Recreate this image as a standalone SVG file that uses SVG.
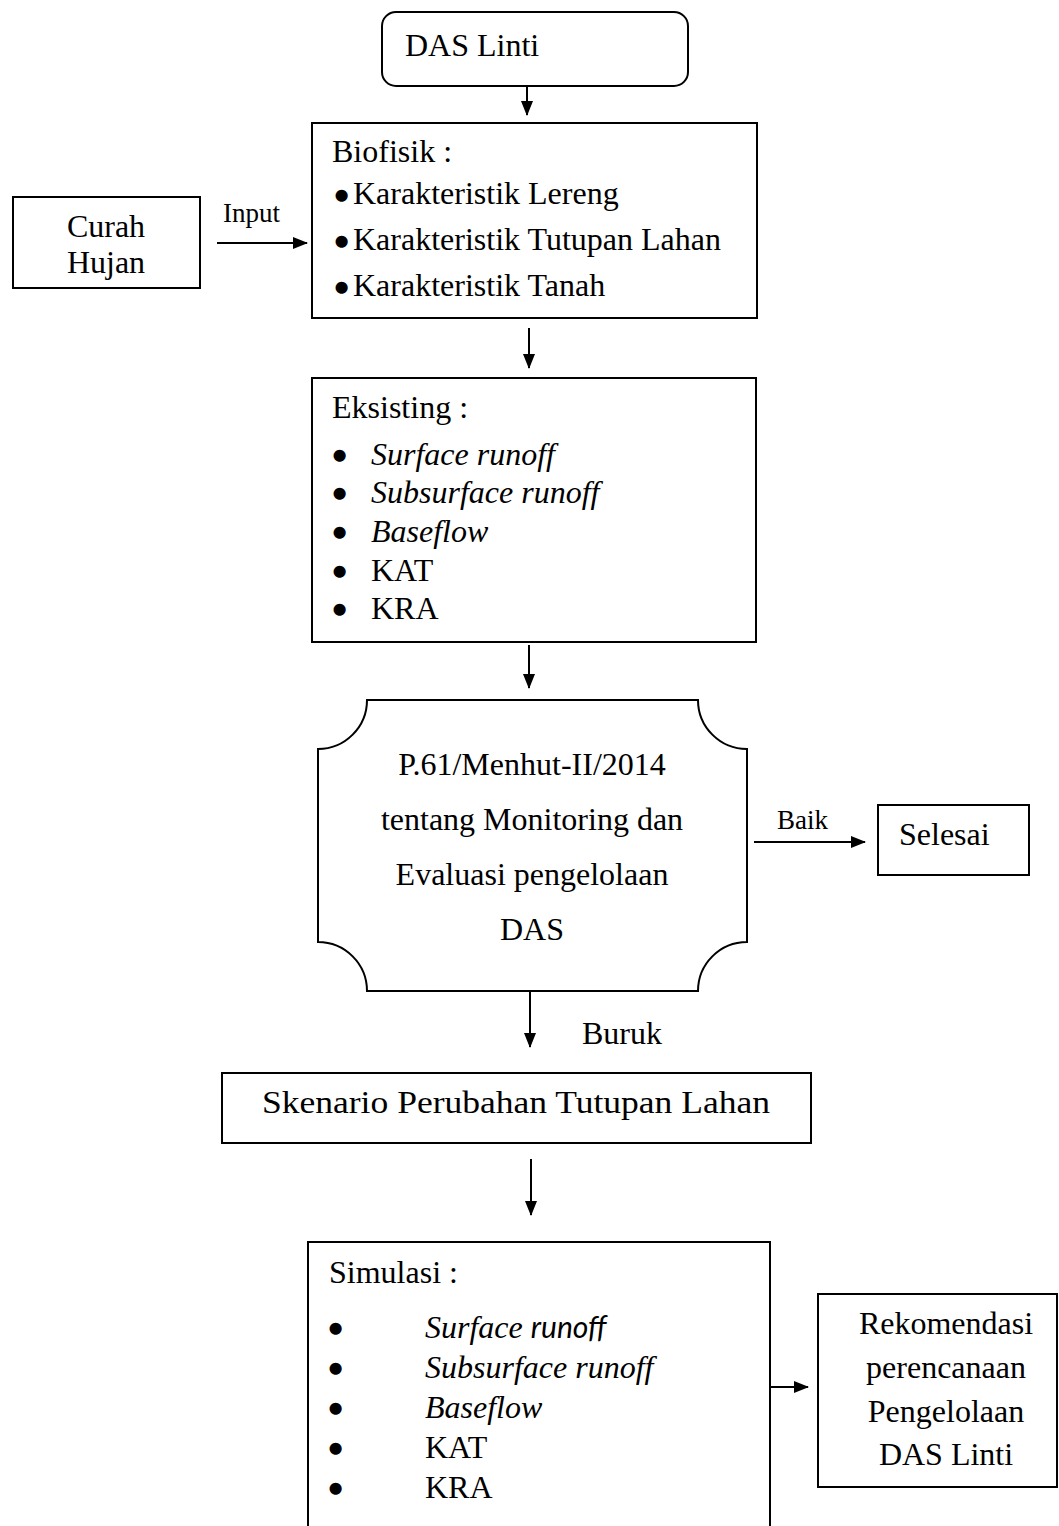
<svg xmlns="http://www.w3.org/2000/svg" width="1059" height="1526" viewBox="0 0 1059 1526">
<style>
.box{fill:#fff;stroke:#000;stroke-width:2}
.t{font-family:"Liberation Serif","Times New Roman",serif;font-size:32px;fill:#000}
.s{font-family:"Liberation Serif","Times New Roman",serif;font-size:27px;fill:#000}
.b{font-family:"Liberation Serif","Times New Roman",serif;font-size:32px;fill:#000;stroke:#000;stroke-width:4.5;stroke-linejoin:round}
.i{font-style:italic}
.c{text-anchor:middle}
.con{stroke:#000;stroke-width:2;fill:none}
</style>
<defs>
<marker id="ah" markerUnits="userSpaceOnUse" markerWidth="16" markerHeight="12" refX="14" refY="6" orient="auto">
<path d="M0,0 L15,6 L0,12 z" fill="#000"/>
</marker>
</defs>
<rect width="1059" height="1526" fill="#fff"/>
<g id="connectors">
<line class="con" x1="527" y1="86" x2="527" y2="115" marker-end="url(#ah)"/>
<line class="con" x1="217" y1="243" x2="307" y2="243" marker-end="url(#ah)"/>
<line class="con" x1="529" y1="328" x2="529" y2="368" marker-end="url(#ah)"/>
<line class="con" x1="529" y1="645" x2="529" y2="688" marker-end="url(#ah)"/>
<line class="con" x1="754" y1="842" x2="865" y2="842" marker-end="url(#ah)"/>
<line class="con" x1="530" y1="991" x2="530" y2="1047" marker-end="url(#ah)"/>
<line class="con" x1="531" y1="1159" x2="531" y2="1215" marker-end="url(#ah)"/>
<line class="con" x1="770" y1="1387" x2="808" y2="1387" marker-end="url(#ah)"/>
<text class="s" x="223" y="222">Input</text>
<text class="s" x="777" y="829">Baik</text>
<text class="t" x="582" y="1044">Buruk</text>
</g>
<g id="das-linti">
<rect class="box" x="382" y="12" width="306" height="74" rx="14"/>
<text class="t" x="405" y="56">DAS Linti</text>
</g>
<g id="curah-hujan">
<rect class="box" x="13" y="197" width="187" height="91"/>
<text class="t c" x="106" y="237">Curah</text>
<text class="t c" x="106" y="273">Hujan</text>
</g>
<g id="biofisik">
<rect class="box" x="312" y="123" width="445" height="195"/>
<text class="t" x="332" y="162">Biofisik :</text>
<text class="b" x="336" y="207">•</text><text class="t" x="353" y="204">Karakteristik Lereng</text>
<text class="b" x="336" y="253">•</text><text class="t" x="353" y="250">Karakteristik Tutupan Lahan</text>
<text class="b" x="336" y="299">•</text><text class="t" x="353" y="296">Karakteristik Tanah</text>
</g>
<g id="eksisting">
<rect class="box" x="312" y="378" width="444" height="264"/>
<text class="t" x="332" y="418">Eksisting :</text>
<text class="b" x="334" y="467">•</text><text class="t i" x="371" y="465">Surface runoff</text>
<text class="b" x="334" y="505">•</text><text class="t i" x="371" y="503">Subsurface runoff</text>
<text class="b" x="334" y="544">•</text><text class="t i" x="371" y="542">Baseflow</text>
<text class="b" x="334" y="583">•</text><text class="t" x="371" y="581">KAT</text>
<text class="b" x="334" y="621">•</text><text class="t" x="371" y="619">KRA</text>
</g>
<g id="p61">
<path class="box" d="M367,700 H698 A49,49 0 0 0 747,749 V942 A49,49 0 0 0 698,991 H367 A49,49 0 0 0 318,942 V749 A49,49 0 0 0 367,700 Z"/>
<text class="t c" x="532" y="775">P.61/Menhut-II/2014</text>
<text class="t c" x="532" y="830">tentang Monitoring dan</text>
<text class="t c" x="532" y="885">Evaluasi pengelolaan</text>
<text class="t c" x="532" y="940">DAS</text>
</g>
<g id="selesai">
<rect class="box" x="878" y="805" width="151" height="70"/>
<text class="t" x="899" y="845">Selesai</text>
</g>
<g id="skenario">
<rect class="box" x="222" y="1073" width="589" height="70"/>
<text class="t c" x="516" y="1113" textLength="508" lengthAdjust="spacingAndGlyphs">Skenario Perubahan Tutupan Lahan</text>
</g>
<g id="simulasi">
<rect class="box" x="308" y="1242" width="462" height="300"/>
<text class="t" x="329" y="1283">Simulasi :</text>
<text class="b" x="330" y="1340">•</text><text class="t" x="425" y="1338"><tspan class="i">Surface </tspan><tspan style="font-family:Lato,'Open Sans',sans-serif;font-style:italic;font-size:30px">runoff</tspan></text>
<text class="b" x="330" y="1380">•</text><text class="t i" x="425" y="1378">Subsurface runoff</text>
<text class="b" x="330" y="1420">•</text><text class="t i" x="425" y="1418">Baseflow</text>
<text class="b" x="330" y="1460">•</text><text class="t" x="425" y="1458">KAT</text>
<text class="b" x="330" y="1500">•</text><text class="t" x="425" y="1498">KRA</text>
</g>
<g id="rekomendasi">
<rect class="box" x="818" y="1294" width="239" height="193"/>
<text class="t c" x="946" y="1334">Rekomendasi</text>
<text class="t c" x="946" y="1378">perencanaan</text>
<text class="t c" x="946" y="1422">Pengelolaan</text>
<text class="t c" x="946" y="1465">DAS Linti</text>
</g>
</svg>
